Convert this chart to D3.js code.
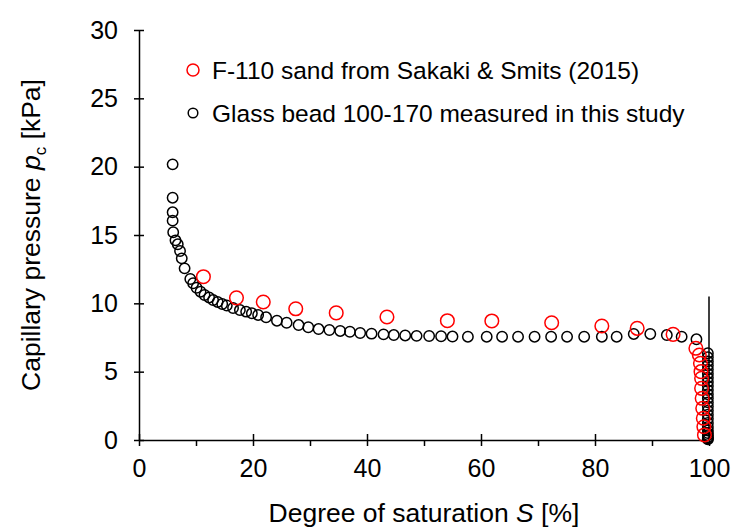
<!DOCTYPE html>
<html><head><meta charset="utf-8">
<script src="https://cdn.jsdelivr.net/npm/d3@7"></script>
<style>body{margin:0;background:#fff;} text{font-family:"Liberation Sans",Arial,sans-serif;fill:#000;}</style>
</head><body><svg id="chart" width="731" height="531"></svg>
<script>
// F-110 sand (Sakaki & Smits 2015): saturation [%], pressure [kPa]
const sandS = [11.3,17.1,21.8,27.5,34.6,43.5,54.1,61.9,72.4,81.2,87.4,93.7,97.7,98.3,98.5,98.6,98.7,98.7,98.8,98.9,99.0,99.1,99.2];
const sandP = [11.95,10.4,10.1,9.6,9.3,9.0,8.73,8.71,8.58,8.34,8.17,7.73,6.71,6.22,5.61,5.0,4.51,3.78,3.05,2.32,1.59,0.97,0.37];
// Glass bead 100-170
const beadS = [5.9,5.9,5.9,5.9,6.0,6.4,6.8,7.2,7.5,8.0,9.0,9.5,10.1,10.8,11.5,12.3,13.0,13.8,14.6,15.4,16.5,17.7,18.8,19.8,20.9,22.3,24.2,25.9,28.0,29.7,31.5,33.4,35.3,37.0,38.8,40.8,42.9,44.7,46.7,48.7,50.9,53.0,55.0,57.7,61.0,63.7,66.5,69.4,72.3,75.1,78.1,81.2,83.8,86.8,89.7,92.6,95.2,97.8,
  99.8,99.8,99.8,99.8,99.8,99.8,99.8,99.8,99.8,99.8,99.8,99.8,99.8,99.8,99.8,99.8,99.8,99.8,99.8,99.8,99.8,99.8,99.8,99.8,99.8];
const beadP = [20.17,17.73,16.66,16.05,15.2,14.61,14.32,13.83,13.29,12.56,11.78,11.47,11.14,10.85,10.61,10.43,10.24,10.1,9.95,9.84,9.66,9.51,9.39,9.27,9.15,8.98,8.73,8.58,8.41,8.25,8.12,8.05,7.98,7.92,7.83,7.78,7.73,7.68,7.65,7.62,7.61,7.59,7.57,7.56,7.56,7.56,7.56,7.56,7.56,7.56,7.56,7.56,7.56,7.76,7.76,7.68,7.56,7.37,
  6.35,6.05,5.75,5.45,5.15,4.85,4.55,4.25,3.95,3.65,3.35,3.05,2.75,2.45,2.15,1.85,1.55,1.25,0.95,0.7,0.5,0.35,0.2,0.1,0.05];
// vertical line at full saturation (S, p pairs)
const fullSatS = [100,100];
const fullSatP = [0,10.5];
const xTicks = [0,20,40,60,80,100];
const xMinor = [10,30,50,70,90];
const yTicks = [0,5,10,15,20,25,30];
const legendLabels = ["F-110 sand from Sakaki & Smits (2015)","Glass bead 100-170 measured in this study"];

const svg = d3.select("#chart");
const L=139, R=709, T=30, B=440;
const x = d3.scaleLinear().domain([0,100]).range([L,R]);
const y = d3.scaleLinear().domain([0,30]).range([B,T]);
const FS = "25px";

// axes
const xAxis = svg.append("g").attr("transform",`translate(0,${B})`)
  .call(d3.axisBottom(x).tickValues(xTicks).tickSizeInner(6).tickSizeOuter(0).tickPadding(13));
xAxis.selectAll(".tick line").attr("y1",-6);
svg.append("g").attr("transform",`translate(0,${B})`)
  .call(d3.axisBottom(x).tickValues(xMinor).tickSize(6).tickFormat("")).select(".domain").remove();
const yAxis = svg.append("g").attr("transform",`translate(${L},0)`)
  .call(d3.axisLeft(y).tickValues(yTicks).tickSizeInner(5).tickSizeOuter(0).tickPadding(16));
yAxis.selectAll(".tick line").attr("x1",5);
svg.selectAll(".domain").attr("stroke","#000").attr("stroke-width",1.5);
svg.selectAll(".tick line").attr("stroke","#000").attr("stroke-width",1.5);
svg.selectAll(".tick text").style("font-size",FS).style("font-family","'Liberation Sans',Arial,sans-serif");

// full-saturation line
svg.append("path").datum(fullSatS.map((s,i)=>[s,fullSatP[i]]))
  .attr("d", d3.line().x(d=>x(d[0])).y(d=>y(d[1])))
  .attr("stroke","#000").attr("stroke-width",1.5).attr("fill","none");

// data
const sand = sandS.map((s,i)=>({s,p:sandP[i]}));
const bead = beadS.map((s,i)=>({s,p:beadP[i]}));
svg.append("g").selectAll("circle").data(bead).join("circle")
  .attr("cx",d=>x(d.s)).attr("cy",d=>y(d.p)).attr("r",5.2)
  .attr("fill","none").attr("stroke","#000").attr("stroke-width",1.5);
svg.append("g").selectAll("circle").data(sand).join("circle")
  .attr("cx",d=>x(d.s)).attr("cy",d=>y(d.p)).attr("r",6.8)
  .attr("fill","none").attr("stroke","#ff0000").attr("stroke-width",1.5);

// legend
const lg = svg.append("g");
lg.append("circle").attr("cx",193).attr("cy",70).attr("r",6).attr("fill","none").attr("stroke","#ff0000").attr("stroke-width",1.5);
lg.append("circle").attr("cx",193).attr("cy",113).attr("r",4.8).attr("fill","none").attr("stroke","#000").attr("stroke-width",1.5);
lg.append("text").attr("x",212).attr("y",70).attr("dy","0.35em").style("font-size","24.5px").text(legendLabels[0]);
lg.append("text").attr("x",212).attr("y",113).attr("dy","0.35em").style("font-size","24.5px").text(legendLabels[1]);

// titles
const xt = svg.append("text").attr("x",(L+R)/2).attr("y",522).attr("text-anchor","middle").style("font-size","26.5px");
xt.append("tspan").text("Degree of saturation ");
xt.append("tspan").style("font-style","italic").text("S");
xt.append("tspan").text(" [%]");
const yt = svg.append("text").attr("transform",`translate(40,${(T+B)/2}) rotate(-90)`).attr("text-anchor","middle").style("font-size","26.5px");
yt.append("tspan").text("Capillary pressure ");
yt.append("tspan").style("font-style","italic").text("p");
yt.append("tspan").attr("dy",6).style("font-size","17px").text("c");
yt.append("tspan").attr("dy",-6).text(" [kPa]");
</script></body></html>
